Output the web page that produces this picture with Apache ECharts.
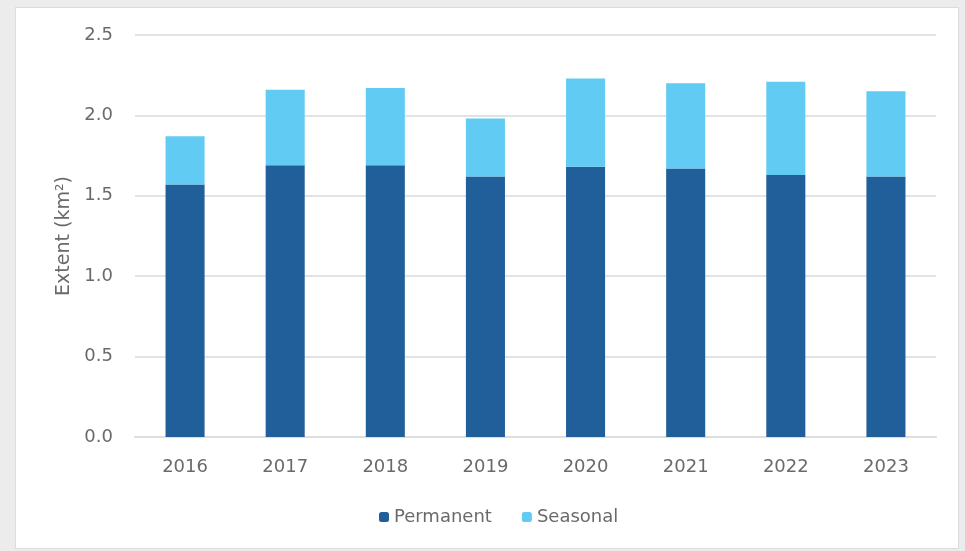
<!DOCTYPE html>
<html>
<head>
<meta charset="utf-8">
<script src="https://cdn.jsdelivr.net/npm/echarts@6/dist/echarts.min.js"></script>
<style>
  html, body { margin: 0; padding: 0; background: #ececec; }
  .panel { position: absolute; left: 15px; top: 7px; width: 942px; height: 540px; background: #fff; border: 1px solid #dcdcdc; }
  .chart { position: absolute; left: 0; top: 0; width: 965px; height: 551px; }
</style>
</head>
<body>
<div class="panel"></div>
<div class="chart"></div>
<script>
// 年份
var years = ['2016', '2017', '2018', '2019', '2020', '2021', '2022', '2023'];
// 常年水面 (km²)
var permanent = [1.57, 1.69, 1.69, 1.62, 1.68, 1.67, 1.63, 1.62];
// 季节性水面 (km²)
var seasonal = [0.30, 0.47, 0.48, 0.36, 0.55, 0.53, 0.58, 0.53];

var textColor = '#6a6a6a';
var font = 'DejaVu Sans';

var chart = echarts.init(document.querySelector('.chart'));
var option = {
  backgroundColor: 'transparent',
  animation: false,
  grid: {
    left: 135,
    right: 29,
    top: 35,
    bottom: 114
  },
  legend: {
    data: ['Permanent', 'Seasonal'],
    bottom: 20,
    left: 374,
    itemWidth: 10,
    itemHeight: 10,
    itemGap: 30,
    textStyle: { color: textColor, fontSize: 18, fontFamily: font }
  },
  xAxis: {
    type: 'category',
    data: years,
    axisTick: { show: false },
    axisLine: { lineStyle: { color: '#dedede', width: 2 } },
    axisLabel: { color: textColor, fontSize: 18, fontFamily: font, margin: 21 }
  },
  yAxis: {
    type: 'value',
    min: 0,
    max: 2.5,
    interval: 0.5,
    name: 'Extent (km²)',
    nameLocation: 'middle',
    nameGap: 60,
    nameTextStyle: { color: textColor, fontSize: 19, fontFamily: font },
    axisLabel: {
      color: textColor, fontSize: 18, fontFamily: font, margin: 22,
      formatter: function (v) { return v.toFixed(1); }
    },
    splitLine: { lineStyle: { color: '#e3e3e3', width: 2 } }
  },
  series: [{
    name: 'Permanent',
    type: 'bar',
    stack: 'extent',
    barWidth: '39%',
    itemStyle: { color: '#215f9a' },
    data: permanent
  }, {
    name: 'Seasonal',
    type: 'bar',
    stack: 'extent',
    barWidth: '39%',
    itemStyle: { color: '#61cbf3' },
    data: seasonal
  }]
};
chart.setOption(option);
</script>
</body>
</html>
